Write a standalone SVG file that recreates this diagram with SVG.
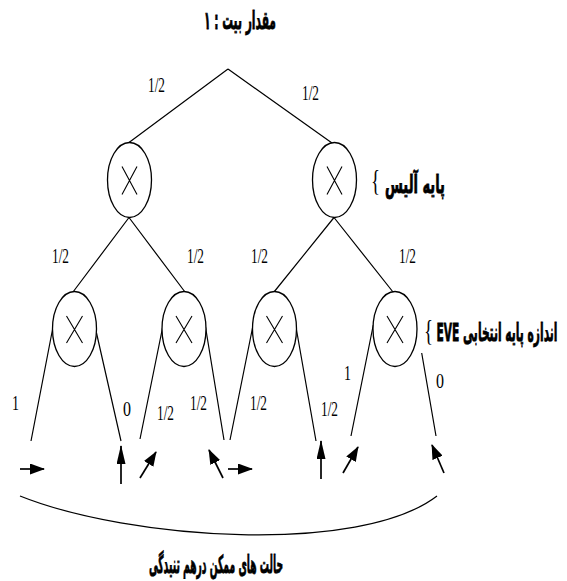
<svg xmlns="http://www.w3.org/2000/svg" width="567" height="581" viewBox="0 0 567 581">
<style>
.ln{stroke:#000;stroke-width:1.2;fill:none}
.nd{stroke:#000;stroke-width:1.3;fill:#fff}
.x{stroke:#000;stroke-width:1.1}
.ar{stroke:#000;stroke-width:1.7;fill:none}
.n{font-family:"Liberation Serif","Times New Roman",serif;font-size:21px;fill:#000}
.fa{font-family:"DejaVu Sans",sans-serif;font-weight:bold;font-size:25px;fill:#000;stroke:#000;stroke-width:0.8}
.br{font-family:"Liberation Serif","Times New Roman",serif;font-size:30px;fill:#000}
</style>
<defs>
<marker id="ah" markerUnits="userSpaceOnUse" markerWidth="15" markerHeight="11" refX="14" refY="5.5" orient="auto"><path d="M0,0 L15,5.5 L0,11 z" fill="#000"/></marker>
<marker id="ahv" markerUnits="userSpaceOnUse" markerWidth="19" markerHeight="9" refX="18" refY="4.5" orient="auto"><path d="M0,0 L19,4.5 L0,9 z" fill="#000"/></marker>
</defs>
<rect width="567" height="581" fill="#fff"/>
<g id="connectors">
<path class="ln" d="M228,69 L129,142.5 M228,69 L332,143"/>
<path class="ln" d="M129,217.5 L73,292 M129,217.5 L185,292"/>
<path class="ln" d="M334,217.5 L274,292 M334,217.5 L393,292"/>
<path class="ln" d="M53,327 L31,441 M96.5,333 L121,441"/>
<path class="ln" d="M162.5,328 L140,439 M205.5,327 L224,440"/>
<path class="ln" d="M252.7,327 L230,440 M296,327 L316,441"/>
<path class="ln" d="M373.3,325 L351,436 M421.7,353 L436,436"/>
<path class="ln" d="M20,496 C130,540 360,555 437,496"/>
</g>
<g id="n1"><ellipse class="nd" cx="129.5" cy="180" rx="22" ry="37.5"/><path class="x" d="M122,166.5 L137,194.5 M137,166.5 L122,194.5"/></g>
<g id="n2"><ellipse class="nd" cx="334.5" cy="180" rx="22" ry="37.5"/><path class="x" d="M327,166.5 L342,194.5 M342,166.5 L327,194.5"/></g>
<g id="n3"><ellipse class="nd" cx="74.5" cy="329" rx="22" ry="37.5"/><path class="x" d="M66.5,316 L82.5,343 M82.5,316 L66.5,343"/></g>
<g id="n4"><ellipse class="nd" cx="184" cy="329" rx="22" ry="37.5"/><path class="x" d="M176,316 L192,343 M192,316 L176,343"/></g>
<g id="n5"><ellipse class="nd" cx="274.5" cy="329" rx="22" ry="37.5"/><path class="x" d="M266.5,316 L282.5,343 M282.5,316 L266.5,343"/></g>
<g id="n6"><ellipse class="nd" cx="395" cy="329" rx="22" ry="37.5"/><path class="x" d="M387,316 L403,343 M403,316 L387,343"/></g>
<g id="states">
<path class="ar" marker-end="url(#ah)" d="M20,469 L44,469"/>
<path class="ar" marker-end="url(#ahv)" d="M121,484 L121,446"/>
<path class="ar" marker-end="url(#ah)" d="M140,478 L156,452"/>
<path class="ar" marker-end="url(#ah)" d="M223,478 L209,450"/>
<path class="ar" marker-end="url(#ah)" d="M228,469 L252,469"/>
<path class="ar" marker-end="url(#ahv)" d="M321,479 L321,441"/>
<path class="ar" marker-end="url(#ah)" d="M343,473 L358,447"/>
<path class="ar" marker-end="url(#ah)" d="M444,473 L432,445"/>
</g>
<g id="labels">
<text class="n" x="148" y="92" textLength="17" lengthAdjust="spacingAndGlyphs">1/2</text>
<text class="n" x="302" y="100" textLength="17" lengthAdjust="spacingAndGlyphs">1/2</text>
<text class="n" x="52" y="263" textLength="17" lengthAdjust="spacingAndGlyphs">1/2</text>
<text class="n" x="187" y="263" textLength="17" lengthAdjust="spacingAndGlyphs">1/2</text>
<text class="n" x="251" y="263" textLength="17" lengthAdjust="spacingAndGlyphs">1/2</text>
<text class="n" x="399" y="263" textLength="17" lengthAdjust="spacingAndGlyphs">1/2</text>
<text class="n" x="12" y="410" textLength="7" lengthAdjust="spacingAndGlyphs">1</text>
<text class="n" x="123" y="416" textLength="8" lengthAdjust="spacingAndGlyphs">0</text>
<text class="n" x="157" y="420" textLength="17" lengthAdjust="spacingAndGlyphs">1/2</text>
<text class="n" x="190" y="410" textLength="17" lengthAdjust="spacingAndGlyphs">1/2</text>
<text class="n" x="250" y="410" textLength="17" lengthAdjust="spacingAndGlyphs">1/2</text>
<text class="n" x="321" y="416" textLength="17" lengthAdjust="spacingAndGlyphs">1/2</text>
<text class="n" x="344" y="380" textLength="7" lengthAdjust="spacingAndGlyphs">1</text>
<text class="n" x="436" y="388" textLength="8" lengthAdjust="spacingAndGlyphs">0</text>
</g>
<g id="title"><text class="fa" x="240" y="29" text-anchor="middle" direction="rtl" textLength="72" lengthAdjust="spacingAndGlyphs">مقدار بیت : ۱</text></g>
<g id="alice">
<text class="br" x="371" y="190" textLength="9" lengthAdjust="spacingAndGlyphs">{</text>
<text class="fa" x="415" y="193" text-anchor="middle" direction="rtl" textLength="60" lengthAdjust="spacingAndGlyphs">پایه آلیس</text>
</g>
<g id="eve">
<text class="br" x="424" y="340" textLength="9" lengthAdjust="spacingAndGlyphs">{</text>
<text class="fa" x="497" y="341" text-anchor="middle" direction="rtl" textLength="121" lengthAdjust="spacingAndGlyphs">اندازه پایه انتخابی EVE</text>
</g>
<g id="caption"><text class="fa" x="216" y="573" text-anchor="middle" direction="rtl" textLength="134" lengthAdjust="spacingAndGlyphs">حالت های ممکن درهم تنیدگی</text></g>
</svg>
